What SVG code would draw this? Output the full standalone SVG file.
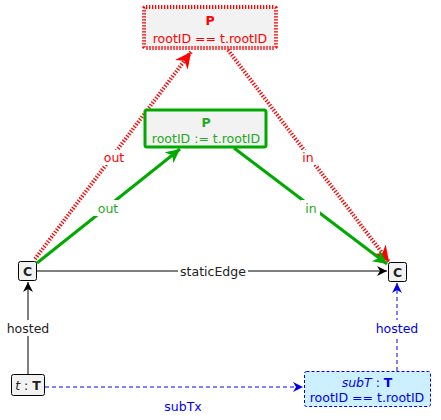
<svg xmlns="http://www.w3.org/2000/svg" width="441" height="420" viewBox="0 0 441 420">
<style>
text{font-family:"DejaVu Sans","Liberation Sans",sans-serif;font-size:12.5px;text-anchor:middle;dominant-baseline:central}
.node{fill:#f2f2f2;stroke:#000;stroke-width:1}
.b{font-weight:bold}
.red{fill:#ff0000}
.grn{fill:#22aa22}
.blu{fill:#0000ee}
.bg{fill:#fff}
.dot{stroke:#ff0000;stroke-width:4;stroke-dasharray:1.3 1.7}
</style>
<defs>
<marker id="ak" markerUnits="userSpaceOnUse" markerWidth="12" markerHeight="10" refX="10" refY="5" orient="auto" viewBox="0 0 12 10"><path d="M0,0 L10,5 L0,10 L3,5 z" fill="#000"/></marker>
<marker id="ab" markerUnits="userSpaceOnUse" markerWidth="12" markerHeight="10" refX="10" refY="5" orient="auto" viewBox="0 0 12 10"><path d="M0,0 L10,5 L0,10 L3,5 z" fill="#0000ee"/></marker>
<marker id="ar" markerUnits="userSpaceOnUse" markerWidth="18" markerHeight="16" refX="16" refY="8" orient="auto" viewBox="0 0 18 16"><path d="M0,0 L16,8 L0,16 L5,8 z" fill="#ff0000"/></marker>
<marker id="ag" markerUnits="userSpaceOnUse" markerWidth="16" markerHeight="14" refX="14" refY="7" orient="auto" viewBox="0 0 16 14"><path d="M0,0 L14,7 L0,14 L4,7 z" fill="#00aa00"/></marker>
</defs>
<g id="connectors">
<line x1="37" y1="271" x2="387" y2="271" stroke="#000" marker-end="url(#ak)"/>
<rect class="bg" x="178" y="263" width="70" height="16"/>
<text x="213" y="271" fill="#222">staticEdge</text>
<line class="dot" x1="35" y1="259" x2="191" y2="52" marker-end="url(#ar)"/>
<rect class="bg" x="100" y="150" width="28" height="15"/>
<text class="red" x="114" y="157">out</text>
<line class="dot" x1="228" y1="50" x2="389" y2="262" marker-end="url(#ar)"/>
<rect class="bg" x="299" y="150" width="18" height="15"/>
<text class="red" x="308" y="157">in</text>
<line x1="37" y1="263" x2="180" y2="149" stroke="#00aa00" stroke-width="3" marker-end="url(#ag)"/>
<rect class="bg" x="94" y="200" width="28" height="16"/>
<text class="grn" x="108" y="208">out</text>
<line x1="234" y1="148" x2="387" y2="264" stroke="#00aa00" stroke-width="3" marker-end="url(#ag)"/>
<rect class="bg" x="301" y="200" width="19" height="16"/>
<text class="grn" x="311" y="208">in</text>
<line x1="28" y1="374" x2="28" y2="282" stroke="#000" marker-end="url(#ak)"/>
<rect class="bg" x="5" y="320" width="46" height="16"/>
<text x="28" y="328" fill="#222">hosted</text>
<line x1="397" y1="371" x2="397" y2="283" stroke="#0000ee" stroke-dasharray="4 3" marker-end="url(#ab)"/>
<rect class="bg" x="374" y="320" width="46" height="16"/>
<text class="blu" x="397" y="328">hosted</text>
<line x1="45" y1="387" x2="303" y2="387" stroke="#0000ee" stroke-dasharray="4 3" marker-end="url(#ab)"/>
<text class="blu" x="183" y="406">subTx</text>
</g>
<g id="P-top">
<rect class="dot" x="144" y="7" width="132" height="41" rx="2" fill="#f2f2f2"/>
<text class="red b" x="210" y="20">P</text>
<text class="red" x="210" y="38">rootID == t.rootID</text>
</g>
<g id="P-mid">
<rect x="145" y="110" width="121" height="37" rx="2" fill="#f2f2f2" stroke="#00aa00" stroke-width="3"/>
<text class="grn b" x="206" y="122">P</text>
<text class="grn" x="206" y="138">rootID := t.rootID</text>
</g>
<g id="C-left">
<rect class="node" x="18.5" y="261.5" width="18" height="19" rx="2"/>
<text class="b" x="27.5" y="271" fill="#222">C</text>
</g>
<g id="C-right">
<rect class="node" x="388.5" y="262.5" width="18" height="19" rx="2"/>
<text class="b" x="397.5" y="272" fill="#222">C</text>
</g>
<g id="t-T">
<rect class="node" x="11.5" y="374.5" width="33" height="21" rx="2"/>
<text x="28" y="385" fill="#222"><tspan font-style="italic">t</tspan> : <tspan font-weight="bold">T</tspan></text>
</g>
<g id="subT">
<rect x="304.5" y="371.5" width="126" height="35" rx="2" fill="#ccf0ff" stroke="#0000ee" stroke-dasharray="3 2"/>
<text class="blu" x="367" y="382"><tspan font-style="italic">subT</tspan> : <tspan font-weight="bold">T</tspan></text>
<text class="blu" x="367" y="397">rootID == t.rootID</text>
</g>
</svg>
